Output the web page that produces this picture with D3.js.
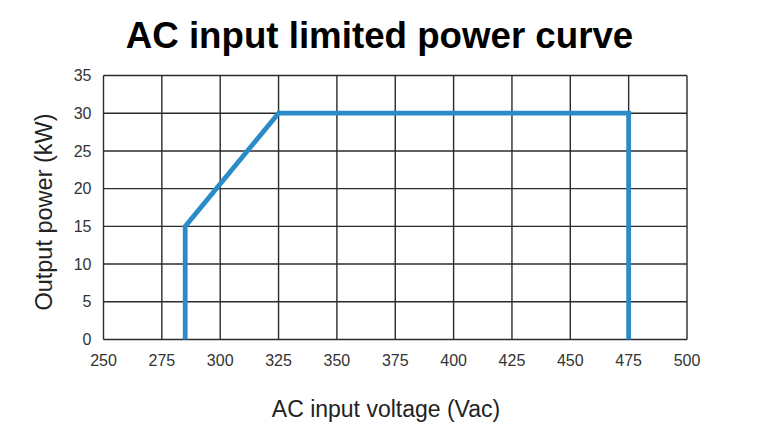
<!DOCTYPE html>
<html>
<head>
<meta charset="utf-8">
<script src="https://cdn.jsdelivr.net/npm/d3@7"></script>
<style>
  body { margin: 0; background: #fff; }
  text { font-family: "Liberation Sans", Arial, sans-serif; }
</style>
</head>
<body>
<div id="chart"></div>
<script>
// DATA //
let voltage = [285, 285, 325, 475, 475];
let power = [0, 15, 30, 30, 0];
let xTicks = [250, 275, 300, 325, 350, 375, 400, 425, 450, 475, 500];
let yTicks = [0, 5, 10, 15, 20, 25, 30, 35];

// DIMENSIONS //
let W = 777, H = 436;
let margin = {top: 75.5, right: 90, bottom: 96.5, left: 103.5},
    width = W - margin.left - margin.right,
    height = H - margin.top - margin.bottom;

let svg = d3.select("#chart")
    .append("svg")
    .attr("width", W)
    .attr("height", H);

let g = svg.append("g")
    .attr("transform", "translate(" + margin.left + "," + margin.top + ")");

let xScale = d3.scaleLinear().domain([250, 500]).range([0, width]);
let yScale = d3.scaleLinear().domain([0, 35]).range([height, 0]);

// grid
g.append("g")
    .selectAll("line")
    .data(xTicks)
    .join("line")
    .attr("x1", d => xScale(d)).attr("x2", d => xScale(d))
    .attr("y1", 0).attr("y2", height)
    .attr("stroke", "#2b2b2b")
    .attr("stroke-width", 1.4);

g.append("g")
    .selectAll("line")
    .data(yTicks)
    .join("line")
    .attr("x1", 0).attr("x2", width)
    .attr("y1", d => yScale(d)).attr("y2", d => yScale(d))
    .attr("stroke", "#2b2b2b")
    .attr("stroke-width", 1.4);

// y tick labels
g.append("g")
    .selectAll("text")
    .data(yTicks)
    .join("text")
    .attr("x", -12)
    .attr("y", d => yScale(d))
    .attr("dy", "0.35em")
    .attr("text-anchor", "end")
    .attr("font-size", 16)
    .attr("fill", "#333")
    .text(d => d);

// x tick labels
g.append("g")
    .selectAll("text")
    .data(xTicks)
    .join("text")
    .attr("x", d => xScale(d))
    .attr("y", height + 26.5)
    .attr("text-anchor", "middle")
    .attr("font-size", 16)
    .attr("fill", "#333")
    .text(d => d);

// the curve
let line = d3.line()
    .x((d, i) => xScale(voltage[i]))
    .y(d => yScale(d));

g.append("path")
    .datum(power)
    .attr("d", line)
    .attr("fill", "none")
    .attr("stroke", "#2a8bc9")
    .attr("stroke-width", 4.8)
    .attr("stroke-linejoin", "miter");

// titles
svg.append("text")
    .attr("x", 379.5)
    .attr("y", 48)
    .attr("text-anchor", "middle")
    .attr("font-size", 36.7)
    .attr("font-weight", "bold")
    .attr("fill", "#000")
    .text("AC input limited power curve");

svg.append("text")
    .attr("x", 386)
    .attr("y", 417)
    .attr("text-anchor", "middle")
    .attr("font-size", 23)
    .attr("fill", "#222")
    .text("AC input voltage (Vac)");

svg.append("text")
    .attr("transform", "translate(52,212) rotate(-90)")
    .attr("text-anchor", "middle")
    .attr("font-size", 23.5)
    .attr("fill", "#222")
    .text("Output power (kW)");
</script>
</body>
</html>
